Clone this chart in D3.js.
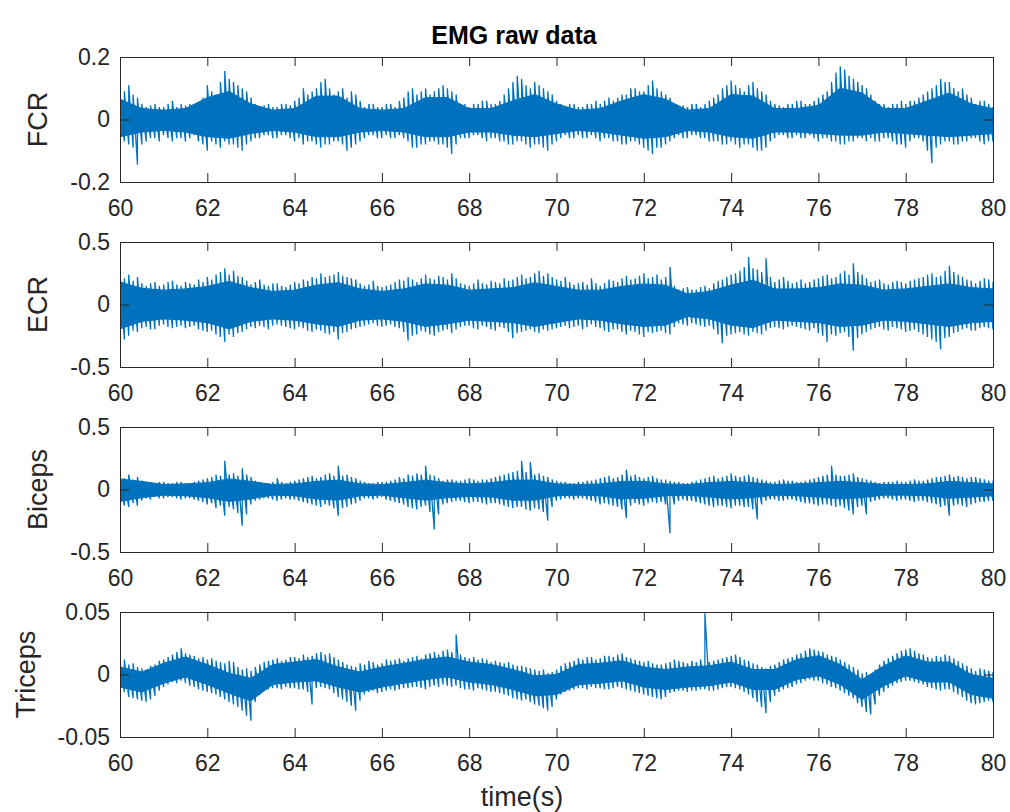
<!DOCTYPE html>
<html><head><meta charset="utf-8">
<script src="https://cdn.jsdelivr.net/npm/d3@7"></script>
<style>body{margin:0;background:#fff}</style>
</head><body><svg id="c" width="1010" height="812"></svg>
<script>
// ---- data ----
const chartTitle = "EMG raw data";
const xAxisLabel = "time(s)";
const xTickValues = [60, 62, 64, 66, 68, 70, 72, 74, 76, 78, 80];
const sampleStart = 60, sampleStep = 0.1;   // signal extremes per 0.1 s bin
const coreStart = 60, coreStep = 0.5;       // dense band per 0.5 s

const fcrUpper = [0.07,0.09,0.11,0.08,0.07,0.05,0.04,0.045,0.05,0.04,
 0.04,0.05,0.06,0.04,0.05,0.045,0.05,0.04,0.05,0.07,
 0.11,0.09,0.08,0.12,0.155,0.13,0.12,0.11,0.10,0.09,
 0.07,0.05,0.04,0.045,0.05,0.04,0.04,0.05,0.05,0.045,
 0.06,0.07,0.10,0.08,0.09,0.10,0.12,0.13,0.10,0.08,
 0.09,0.10,0.07,0.09,0.08,0.06,0.04,0.05,0.05,0.04,
 0.04,0.05,0.05,0.04,0.06,0.07,0.09,0.10,0.08,0.09,
 0.10,0.08,0.09,0.10,0.11,0.10,0.09,0.08,0.05,0.05,
 0.04,0.05,0.05,0.06,0.06,0.05,0.05,0.06,0.08,0.10,
 0.12,0.14,0.13,0.11,0.10,0.12,0.11,0.10,0.09,0.08,
 0.06,0.05,0.04,0.05,0.05,0.04,0.04,0.05,0.05,0.06,
 0.05,0.06,0.07,0.06,0.07,0.08,0.08,0.10,0.10,0.09,
 0.09,0.11,0.125,0.10,0.09,0.08,0.07,0.05,0.04,0.045,
 0.04,0.05,0.05,0.04,0.05,0.06,0.07,0.08,0.10,0.11,
 0.125,0.11,0.10,0.09,0.11,0.12,0.10,0.09,0.08,0.06,
 0.05,0.045,0.04,0.05,0.05,0.06,0.06,0.05,0.05,0.06,
 0.07,0.08,0.09,0.12,0.15,0.17,0.16,0.14,0.13,0.12,
 0.11,0.10,0.08,0.06,0.05,0.05,0.04,0.05,0.05,0.06,
 0.05,0.06,0.06,0.07,0.08,0.09,0.10,0.11,0.13,0.12,
 0.12,0.10,0.09,0.10,0.08,0.07,0.05,0.06,0.06,0.05,0.04];
const fcrLower = [-0.06,-0.07,-0.08,-0.09,-0.145,-0.08,-0.07,-0.06,-0.06,-0.07,
 -0.05,-0.06,-0.07,-0.06,-0.06,-0.07,-0.06,-0.05,-0.07,-0.08,
 -0.10,-0.07,-0.08,-0.09,-0.07,-0.08,-0.08,-0.09,-0.10,-0.08,
 -0.07,-0.06,-0.06,-0.05,-0.05,-0.06,-0.06,-0.05,-0.05,-0.06,
 -0.07,-0.06,-0.08,-0.07,-0.07,-0.08,-0.09,-0.08,-0.08,-0.07,
 -0.07,-0.08,-0.10,-0.09,-0.08,-0.07,-0.06,-0.05,-0.05,-0.06,
 -0.06,-0.05,-0.06,-0.06,-0.05,-0.06,-0.07,-0.09,-0.09,-0.08,
 -0.08,-0.07,-0.07,-0.08,-0.08,-0.09,-0.11,-0.08,-0.06,-0.06,
 -0.06,-0.05,-0.05,-0.06,-0.07,-0.06,-0.06,-0.07,-0.07,-0.08,
 -0.08,-0.07,-0.07,-0.08,-0.09,-0.08,-0.08,-0.09,-0.10,-0.08,
 -0.07,-0.06,-0.05,-0.06,-0.06,-0.05,-0.06,-0.06,-0.05,-0.06,
 -0.07,-0.06,-0.06,-0.07,-0.07,-0.08,-0.08,-0.07,-0.07,-0.08,
 -0.09,-0.10,-0.11,-0.09,-0.09,-0.08,-0.07,-0.06,-0.05,-0.06,
 -0.06,-0.05,-0.05,-0.06,-0.06,-0.07,-0.07,-0.07,-0.08,-0.08,
 -0.07,-0.08,-0.09,-0.08,-0.08,-0.09,-0.10,-0.10,-0.09,-0.07,
 -0.06,-0.05,-0.05,-0.06,-0.06,-0.05,-0.06,-0.06,-0.05,-0.06,
 -0.07,-0.06,-0.06,-0.07,-0.07,-0.08,-0.08,-0.07,-0.07,-0.06,
 -0.06,-0.07,-0.06,-0.07,-0.07,-0.06,-0.06,-0.07,-0.08,-0.08,
 -0.09,-0.07,-0.06,-0.06,-0.07,-0.10,-0.14,-0.09,-0.08,-0.07,
 -0.07,-0.08,-0.08,-0.07,-0.07,-0.06,-0.06,-0.07,-0.08,-0.07,-0.07];
const fcrCoreUpper = [0.065,0.035,0.03,0.035,0.07,0.09,0.05,0.03,0.035,0.075,0.075,0.035,0.03,0.035,0.07,0.07,0.035,0.035,0.06,0.08,0.05,0.03,0.035,0.06,0.08,0.065,0.03,0.035,0.08,0.075,0.035,0.035,0.045,0.10,0.085,0.035,0.035,0.06,0.085,0.05,0.035];
const fcrCoreLower = [-0.055,-0.04,-0.035,-0.04,-0.055,-0.06,-0.045,-0.035,-0.04,-0.055,-0.055,-0.04,-0.035,-0.04,-0.055,-0.055,-0.04,-0.04,-0.05,-0.055,-0.045,-0.035,-0.04,-0.05,-0.06,-0.055,-0.035,-0.04,-0.055,-0.06,-0.04,-0.04,-0.045,-0.05,-0.05,-0.04,-0.045,-0.05,-0.055,-0.05,-0.045];

const ecrUpper = [0.26,0.21,0.24,0.19,0.22,0.17,0.15,0.17,0.18,0.15,
 0.16,0.18,0.19,0.16,0.15,0.18,0.17,0.16,0.20,0.18,
 0.22,0.20,0.24,0.26,0.29,0.24,0.27,0.23,0.22,0.19,
 0.16,0.18,0.20,0.16,0.15,0.17,0.17,0.15,0.14,0.16,
 0.18,0.17,0.20,0.19,0.22,0.21,0.25,0.22,0.23,0.24,
 0.26,0.23,0.22,0.21,0.20,0.17,0.15,0.16,0.19,0.15,
 0.14,0.15,0.16,0.18,0.20,0.19,0.22,0.20,0.18,0.21,
 0.24,0.21,0.20,0.23,0.22,0.20,0.25,0.21,0.17,0.16,
 0.15,0.17,0.20,0.17,0.16,0.19,0.18,0.17,0.21,0.19,
 0.20,0.22,0.24,0.21,0.22,0.25,0.27,0.23,0.25,0.22,
 0.20,0.19,0.22,0.18,0.16,0.17,0.18,0.16,0.21,0.17,
 0.15,0.17,0.20,0.19,0.18,0.21,0.23,0.20,0.21,0.23,
 0.25,0.21,0.22,0.24,0.20,0.22,0.30,0.15,0.12,0.13,
 0.14,0.12,0.12,0.14,0.15,0.13,0.17,0.19,0.20,0.22,
 0.24,0.25,0.27,0.30,0.38,0.29,0.28,0.26,0.37,0.22,
 0.18,0.20,0.22,0.19,0.17,0.18,0.20,0.17,0.18,0.20,
 0.21,0.23,0.24,0.21,0.22,0.25,0.27,0.24,0.33,0.26,
 0.24,0.21,0.18,0.19,0.20,0.17,0.16,0.18,0.19,0.18,
 0.17,0.19,0.20,0.21,0.22,0.24,0.25,0.22,0.23,0.27,
 0.31,0.26,0.24,0.22,0.20,0.19,0.17,0.19,0.21,0.20,0.18];
const ecrLower = [-0.37,-0.28,-0.25,-0.21,-0.22,-0.19,-0.18,-0.20,-0.20,-0.17,
 -0.16,-0.18,-0.19,-0.18,-0.17,-0.19,-0.18,-0.17,-0.20,-0.21,
 -0.22,-0.21,-0.24,-0.26,-0.30,-0.24,-0.26,-0.23,-0.22,-0.20,
 -0.18,-0.19,-0.17,-0.18,-0.20,-0.17,-0.16,-0.17,-0.18,-0.19,
 -0.20,-0.18,-0.19,-0.21,-0.22,-0.20,-0.21,-0.23,-0.24,-0.22,
 -0.28,-0.23,-0.22,-0.20,-0.19,-0.18,-0.17,-0.16,-0.15,-0.17,
 -0.18,-0.17,-0.16,-0.18,-0.19,-0.22,-0.29,-0.25,-0.24,-0.21,
 -0.22,-0.24,-0.25,-0.22,-0.21,-0.20,-0.23,-0.20,-0.18,-0.17,
 -0.17,-0.19,-0.20,-0.17,-0.18,-0.20,-0.21,-0.18,-0.19,-0.22,
 -0.27,-0.23,-0.22,-0.21,-0.20,-0.22,-0.23,-0.20,-0.21,-0.20,
 -0.19,-0.18,-0.17,-0.19,-0.18,-0.17,-0.20,-0.18,-0.16,-0.18,
 -0.19,-0.21,-0.22,-0.20,-0.20,-0.22,-0.24,-0.21,-0.22,-0.24,
 -0.26,-0.22,-0.23,-0.22,-0.21,-0.23,-0.24,-0.18,-0.15,-0.16,
 -0.17,-0.15,-0.16,-0.17,-0.18,-0.17,-0.20,-0.24,-0.31,-0.25,
 -0.24,-0.23,-0.22,-0.24,-0.25,-0.22,-0.23,-0.24,-0.21,-0.19,
 -0.18,-0.19,-0.20,-0.18,-0.17,-0.18,-0.19,-0.20,-0.21,-0.19,
 -0.23,-0.25,-0.30,-0.24,-0.25,-0.23,-0.22,-0.26,-0.37,-0.27,
 -0.24,-0.22,-0.20,-0.19,-0.18,-0.20,-0.21,-0.18,-0.19,-0.20,
 -0.22,-0.21,-0.20,-0.22,-0.24,-0.26,-0.28,-0.30,-0.36,-0.27,
 -0.26,-0.23,-0.22,-0.20,-0.19,-0.21,-0.21,-0.19,-0.18,-0.19,-0.20];
const ecrCoreUpper = [0.18,0.13,0.115,0.125,0.145,0.185,0.135,0.105,0.115,0.155,0.175,0.125,0.105,0.125,0.165,0.155,0.115,0.125,0.135,0.175,0.145,0.115,0.115,0.145,0.165,0.155,0.085,0.105,0.155,0.195,0.125,0.125,0.135,0.165,0.155,0.115,0.125,0.145,0.165,0.135,0.125];
const ecrCoreLower = [-0.195,-0.135,-0.115,-0.125,-0.145,-0.195,-0.135,-0.115,-0.125,-0.155,-0.175,-0.125,-0.115,-0.135,-0.175,-0.155,-0.125,-0.135,-0.145,-0.175,-0.145,-0.115,-0.125,-0.155,-0.175,-0.165,-0.095,-0.115,-0.165,-0.185,-0.125,-0.135,-0.145,-0.175,-0.165,-0.125,-0.135,-0.155,-0.175,-0.145,-0.135];

const bicepsUpper = [0.10,0.09,0.12,0.08,0.10,0.07,0.06,0.05,0.05,0.06,
 0.06,0.05,0.05,0.06,0.06,0.05,0.05,0.06,0.07,0.08,
 0.09,0.10,0.12,0.11,0.23,0.12,0.13,0.11,0.17,0.12,
 0.10,0.07,0.06,0.05,0.05,0.06,0.09,0.06,0.05,0.06,
 0.07,0.08,0.09,0.10,0.11,0.09,0.10,0.12,0.13,0.11,
 0.19,0.11,0.12,0.10,0.09,0.07,0.06,0.05,0.05,0.06,
 0.06,0.06,0.07,0.08,0.10,0.09,0.12,0.11,0.13,0.12,
 0.19,0.12,0.11,0.09,0.07,0.08,0.08,0.07,0.07,0.08,
 0.09,0.08,0.07,0.08,0.08,0.09,0.10,0.11,0.12,0.13,
 0.14,0.15,0.23,0.14,0.22,0.12,0.13,0.11,0.10,0.08,
 0.07,0.06,0.06,0.05,0.05,0.06,0.06,0.07,0.07,0.08,
 0.09,0.10,0.11,0.09,0.10,0.12,0.16,0.11,0.12,0.10,
 0.09,0.10,0.11,0.09,0.08,0.08,0.07,0.06,0.06,0.05,
 0.05,0.06,0.07,0.08,0.09,0.10,0.11,0.09,0.10,0.11,
 0.13,0.11,0.10,0.11,0.12,0.10,0.09,0.08,0.07,0.06,
 0.06,0.07,0.08,0.07,0.07,0.06,0.06,0.07,0.08,0.09,
 0.10,0.11,0.12,0.19,0.12,0.11,0.11,0.12,0.13,0.10,
 0.09,0.08,0.07,0.06,0.05,0.06,0.06,0.06,0.07,0.06,
 0.06,0.07,0.08,0.07,0.07,0.08,0.09,0.10,0.10,0.11,
 0.12,0.10,0.11,0.10,0.09,0.10,0.10,0.09,0.08,0.07,0.07];
const bicepsLower = [-0.12,-0.13,-0.14,-0.11,-0.13,-0.09,-0.07,-0.08,-0.06,-0.07,
 -0.07,-0.06,-0.06,-0.07,-0.08,-0.07,-0.07,-0.08,-0.09,-0.10,
 -0.12,-0.11,-0.15,-0.13,-0.21,-0.14,-0.16,-0.19,-0.29,-0.20,
 -0.12,-0.09,-0.08,-0.07,-0.07,-0.08,-0.09,-0.08,-0.07,-0.08,
 -0.08,-0.09,-0.10,-0.11,-0.12,-0.13,-0.14,-0.12,-0.13,-0.15,
 -0.21,-0.15,-0.14,-0.12,-0.11,-0.09,-0.07,-0.07,-0.08,-0.07,
 -0.06,-0.08,-0.09,-0.10,-0.11,-0.12,-0.14,-0.15,-0.16,-0.14,
 -0.13,-0.18,-0.32,-0.20,-0.12,-0.11,-0.10,-0.09,-0.09,-0.10,
 -0.11,-0.10,-0.10,-0.11,-0.12,-0.11,-0.11,-0.12,-0.13,-0.14,
 -0.15,-0.14,-0.14,-0.16,-0.17,-0.15,-0.16,-0.18,-0.25,-0.14,
 -0.09,-0.08,-0.07,-0.07,-0.08,-0.07,-0.07,-0.08,-0.09,-0.10,
 -0.12,-0.11,-0.12,-0.13,-0.14,-0.16,-0.23,-0.13,-0.11,-0.12,
 -0.13,-0.11,-0.10,-0.11,-0.10,-0.12,-0.35,-0.12,-0.09,-0.08,
 -0.09,-0.09,-0.10,-0.11,-0.12,-0.13,-0.14,-0.13,-0.13,-0.14,
 -0.15,-0.13,-0.13,-0.14,-0.14,-0.16,-0.24,-0.12,-0.09,-0.08,
 -0.08,-0.09,-0.09,-0.08,-0.08,-0.09,-0.10,-0.11,-0.11,-0.12,
 -0.13,-0.12,-0.12,-0.13,-0.14,-0.13,-0.15,-0.17,-0.20,-0.14,
 -0.13,-0.20,-0.10,-0.09,-0.08,-0.07,-0.07,-0.08,-0.09,-0.08,
 -0.08,-0.09,-0.10,-0.09,-0.09,-0.10,-0.11,-0.12,-0.14,-0.13,
 -0.21,-0.13,-0.12,-0.13,-0.14,-0.12,-0.11,-0.10,-0.10,-0.09,-0.09];
const bicepsCoreUpper = [0.085,0.065,0.04,0.045,0.055,0.085,0.065,0.04,0.045,0.065,0.075,0.045,0.04,0.055,0.075,0.055,0.045,0.055,0.075,0.075,0.045,0.04,0.045,0.065,0.065,0.045,0.04,0.055,0.065,0.055,0.04,0.045,0.055,0.065,0.055,0.04,0.04,0.045,0.065,0.055,0.045];
const bicepsCoreLower = [-0.095,-0.065,-0.045,-0.05,-0.065,-0.095,-0.075,-0.045,-0.05,-0.075,-0.085,-0.05,-0.045,-0.065,-0.085,-0.065,-0.055,-0.06,-0.085,-0.085,-0.05,-0.045,-0.05,-0.075,-0.07,-0.05,-0.045,-0.06,-0.075,-0.065,-0.045,-0.05,-0.06,-0.075,-0.065,-0.045,-0.045,-0.05,-0.07,-0.06,-0.05];

const tricepsUpper = [0.010,0.012,0.008,0.009,0.006,0.005,0.004,0.007,0.008,0.011,
 0.012,0.014,0.016,0.018,0.021,0.017,0.016,0.015,0.013,0.014,
 0.012,0.013,0.011,0.010,0.009,0.011,0.010,0.006,0.004,0.005,
 0.003,0.006,0.008,0.010,0.011,0.012,0.013,0.011,0.012,0.014,
 0.014,0.013,0.016,0.014,0.015,0.017,0.018,0.016,0.017,0.014,
 0.012,0.010,0.008,0.007,0.006,0.009,0.008,0.011,0.010,0.008,
 0.009,0.012,0.011,0.012,0.013,0.011,0.013,0.014,0.015,0.013,
 0.016,0.017,0.018,0.016,0.019,0.020,0.018,0.032,0.016,0.014,
 0.013,0.014,0.012,0.013,0.012,0.010,0.011,0.010,0.009,0.010,
 0.008,0.007,0.007,0.006,0.005,0.004,0.003,0.004,0.001,0.002,
 0.004,0.007,0.009,0.010,0.011,0.013,0.012,0.014,0.014,0.012,
 0.013,0.015,0.015,0.014,0.016,0.017,0.014,0.013,0.012,0.011,
 0.010,0.011,0.009,0.008,0.008,0.009,0.010,0.012,0.011,0.010,
 0.009,0.011,0.010,0.012,0.049,0.010,0.011,0.012,0.013,0.014,
 0.015,0.016,0.014,0.012,0.011,0.009,0.008,0.006,0.005,0.007,
 0.008,0.010,0.012,0.013,0.014,0.016,0.017,0.019,0.021,0.020,
 0.019,0.018,0.016,0.015,0.014,0.012,0.010,0.008,0.006,0.004,
 0.001,0.002,0.000,0.004,0.008,0.011,0.013,0.015,0.017,0.019,
 0.020,0.021,0.019,0.017,0.016,0.014,0.013,0.015,0.014,0.016,
 0.015,0.013,0.011,0.009,0.007,0.005,0.003,0.005,0.004,0.003,0.002];
const tricepsLower = [-0.016,-0.014,-0.018,-0.019,-0.020,-0.021,-0.022,-0.020,-0.017,-0.013,
 -0.010,-0.008,-0.006,-0.007,-0.005,-0.007,-0.009,-0.010,-0.012,-0.013,
 -0.014,-0.015,-0.016,-0.018,-0.020,-0.022,-0.024,-0.026,-0.029,-0.033,
 -0.037,-0.022,-0.016,-0.013,-0.012,-0.011,-0.011,-0.012,-0.010,-0.011,
 -0.011,-0.012,-0.012,-0.014,-0.024,-0.011,-0.010,-0.011,-0.012,-0.015,
 -0.018,-0.020,-0.022,-0.025,-0.029,-0.021,-0.016,-0.014,-0.013,-0.015,
 -0.014,-0.013,-0.012,-0.013,-0.012,-0.011,-0.011,-0.010,-0.010,-0.011,
 -0.012,-0.010,-0.009,-0.010,-0.008,-0.009,-0.010,-0.009,-0.011,-0.012,
 -0.012,-0.013,-0.011,-0.012,-0.013,-0.014,-0.014,-0.015,-0.016,-0.017,
 -0.019,-0.020,-0.021,-0.020,-0.022,-0.024,-0.025,-0.027,-0.029,-0.026,
 -0.020,-0.016,-0.014,-0.013,-0.012,-0.011,-0.011,-0.012,-0.010,-0.011,
 -0.011,-0.012,-0.012,-0.011,-0.010,-0.011,-0.012,-0.013,-0.014,-0.015,
 -0.016,-0.017,-0.018,-0.019,-0.020,-0.018,-0.015,-0.014,-0.013,-0.013,
 -0.014,-0.013,-0.013,-0.012,-0.012,-0.013,-0.013,-0.012,-0.011,-0.010,
 -0.010,-0.011,-0.012,-0.014,-0.016,-0.019,-0.022,-0.026,-0.031,-0.022,
 -0.017,-0.014,-0.012,-0.011,-0.010,-0.008,-0.007,-0.005,-0.004,-0.005,
 -0.005,-0.007,-0.008,-0.010,-0.011,-0.013,-0.015,-0.017,-0.019,-0.023,
 -0.026,-0.030,-0.032,-0.024,-0.017,-0.014,-0.011,-0.009,-0.007,-0.006,
 -0.005,-0.005,-0.006,-0.007,-0.008,-0.010,-0.011,-0.012,-0.013,-0.012,
 -0.012,-0.014,-0.016,-0.018,-0.021,-0.023,-0.024,-0.023,-0.022,-0.021,-0.022];
const tricepsCoreUpper = [0.006,0.002,0.009,0.014,0.008,0.001,-0.003,0.008,0.010,0.012,0.006,0.002,0.006,0.009,0.012,0.014,0.010,0.008,0.004,-0.001,0.000,0.008,0.009,0.011,0.006,0.004,0.006,0.007,0.010,0.004,0.004,0.012,0.015,0.008,-0.004,0.007,0.015,0.010,0.010,0.000,-0.003];
const tricepsCoreLower = [-0.010,-0.014,-0.007,-0.002,-0.008,-0.015,-0.021,-0.008,-0.006,-0.005,-0.010,-0.014,-0.010,-0.007,-0.004,-0.002,-0.006,-0.008,-0.012,-0.017,-0.016,-0.008,-0.007,-0.005,-0.010,-0.012,-0.010,-0.009,-0.006,-0.012,-0.012,-0.004,-0.001,-0.008,-0.020,-0.009,-0.001,-0.006,-0.006,-0.016,-0.019];

const panelNames = ["FCR", "ECR", "Biceps", "Triceps"];
const panelDomains = [[-0.2, 0.2], [-0.5, 0.5], [-0.5, 0.5], [-0.05, 0.05]];
const panelYTicks = [[-0.2, 0, 0.2], [-0.5, 0, 0.5], [-0.5, 0, 0.5], [-0.05, 0, 0.05]];
const panelYTickLabels = [["-0.2","0","0.2"], ["-0.5","0","0.5"], ["-0.5","0","0.5"], ["-0.05","0","0.05"]];
const panelUpper = [fcrUpper, ecrUpper, bicepsUpper, tricepsUpper];
const panelLower = [fcrLower, ecrLower, bicepsLower, tricepsLower];
const panelCoreUpper = [fcrCoreUpper, ecrCoreUpper, bicepsCoreUpper, tricepsCoreUpper];
const panelCoreLower = [fcrCoreLower, ecrCoreLower, bicepsCoreLower, tricepsCoreLower];

// ---- layout / style ----
const xLeft = 120, xRight = 993, panelTops = [57, 242, 427, 612], panelH = 125;
const lineBlue = "#0072BD", axisColor = "#262626";
const fontFam = "'Liberation Sans', Arial, Helvetica, sans-serif";
const tickFont = 23, labelFont = 27, titleFont = 25, tickLen = 9;

const svg = d3.select("#c");
const x = d3.scaleLinear().domain([60, 80]).range([xLeft, xRight]);
const defs = svg.append("defs");

panelNames.forEach((name, i) => {
  const top = panelTops[i], bottom = top + panelH;
  const y = d3.scaleLinear().domain(panelDomains[i]).range([bottom, top]);
  defs.append("clipPath").attr("id", "clip" + i).append("rect")
    .attr("x", xLeft).attr("y", top).attr("width", xRight - xLeft).attr("height", panelH);
  const dg = svg.append("g").attr("clip-path", `url(#clip${i})`);

  // the trace: within each bin it swings lower -> upper, then on to the next bin
  const upper = panelUpper[i], lower = panelLower[i];
  const pts = [];
  upper.forEach((u, j) => {
    const t = sampleStart + j * sampleStep;
    pts.push([t, lower[j]], [t, u]);
  });
  const trace = d3.line().x(d => x(d[0])).y(d => y(d[1]));
  dg.append("path").datum(pts).attr("d", trace)
    .attr("fill", "none").attr("stroke", lineBlue).attr("stroke-width", 1.3)
    .attr("stroke-linejoin", "miter");

  const cl = panelCoreLower[i];
  const area = d3.area()
    .x((d, j) => x(coreStart + j * coreStep))
    .y0((d, j) => y(cl[j])).y1(d => y(d));
  dg.append("path").datum(panelCoreUpper[i]).attr("d", area)
    .attr("fill", lineBlue).attr("stroke", lineBlue).attr("stroke-width", 1);

  const styleAxis = g => {
    g.attr("font-family", fontFam).attr("font-size", tickFont);
    g.selectAll("path.domain").attr("stroke", axisColor).attr("stroke-width", 1);
    g.selectAll(".tick line").attr("stroke", axisColor).attr("stroke-width", 1);
    g.selectAll(".tick text").attr("fill", axisColor);
  };
  svg.append("g").attr("transform", `translate(0,${bottom})`)
    .call(d3.axisBottom(x).tickValues(xTickValues).tickSizeInner(-tickLen).tickSizeOuter(0).tickPadding(18).tickFormat(d3.format("d")))
    .call(styleAxis);
  svg.append("g").attr("transform", `translate(0,${top})`)
    .call(d3.axisTop(x).tickValues(xTickValues).tickSizeInner(-tickLen).tickSizeOuter(0).tickFormat(""))
    .call(styleAxis);
  const yl = panelYTickLabels[i];
  const leftG = svg.append("g").attr("transform", `translate(${xLeft},0)`)
    .call(d3.axisLeft(y).tickValues(panelYTicks[i]).tickSizeInner(-tickLen).tickSizeOuter(0).tickPadding(10)
      .tickFormat((d, k) => yl[k]))
    .call(styleAxis);
  svg.append("g").attr("transform", `translate(${xRight},0)`)
    .call(d3.axisRight(y).tickValues(panelYTicks[i]).tickSizeInner(-tickLen).tickSizeOuter(0).tickFormat(""))
    .call(styleAxis);

  let minX = Infinity;
  leftG.selectAll(".tick text").each(function () {
    const b = this.getBoundingClientRect(); if (b.left < minX) minX = b.left;
  });
  const lx = minX - 23, ly = (top + bottom) / 2;
  svg.append("text").attr("transform", `translate(${lx},${ly}) rotate(-90)`)
    .attr("text-anchor", "middle").attr("font-family", fontFam).attr("font-size", labelFont)
    .attr("fill", axisColor).text(name);
});

svg.append("text").attr("x", 514).attr("y", 44)
  .attr("text-anchor", "middle").attr("font-family", fontFam).attr("font-size", titleFont)
  .attr("font-weight", "bold").attr("fill", "#000").text(chartTitle);
svg.append("text").attr("x", 522).attr("y", 806)
  .attr("text-anchor", "middle").attr("font-family", fontFam).attr("font-size", labelFont)
  .attr("fill", axisColor).text(xAxisLabel);
</script></body></html>
